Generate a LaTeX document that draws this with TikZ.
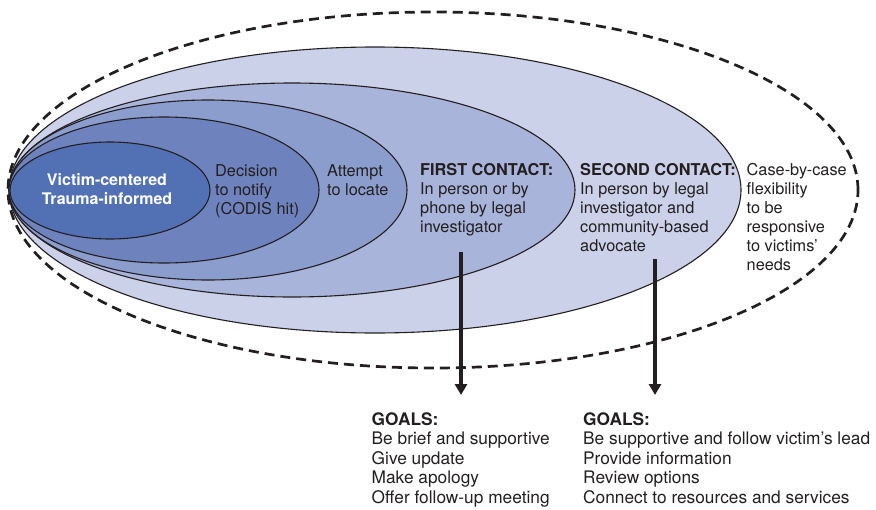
\documentclass[tikz,border=0pt]{standalone}
\usepackage{fontspec}
\setmainfont{TeX Gyre Heros}
\usetikzlibrary{shapes.geometric,arrows.meta}
\definecolor{c1}{RGB}{82,113,181}
\definecolor{c2}{RGB}{110,131,189}
\definecolor{c3}{RGB}{139,157,205}
\definecolor{c4}{RGB}{169,180,218}
\definecolor{c5}{RGB}{203,209,232}
\definecolor{ink}{RGB}{35,31,32}
\tikzset{
  ring/.style={ellipse, draw=ink, line width=1.1pt, inner sep=0pt, outer sep=0pt},
  lbl/.style={anchor=base west, align=left, inner sep=0pt, font=\fontsize{16.3}{19}\selectfont, text=ink},
  goal/.style={anchor=base west, align=left, inner sep=0pt, font=\fontsize{17.3}{19.6}\selectfont, text=ink},
  flow/.style={line width=3.8pt, draw=ink, -{Triangle[length=11pt,width=12pt]}},
}
\begin{document}
\begin{tikzpicture}[x=1pt,y=-1pt]
\useasboundingbox (0,0) rectangle (876,509);
\node[ring, line width=2.7pt, dash pattern=on 10pt off 6pt, minimum width=850pt, minimum height=356pt] (e6) at (433,190) {};
\node[ring, fill=c5, minimum width=732pt, minimum height=286pt] (e5) at (375,190) {};
\node[ring, fill=c4, minimum width=566pt, minimum height=214pt] (e4) at (292,190) {};
\node[ring, fill=c3, minimum width=398pt, minimum height=180pt] (e3) at (208,190) {};
\node[ring, fill=c2, minimum width=310pt, minimum height=146pt] (e2) at (164,190) {};
\node[ring, fill=c1, minimum width=200pt, minimum height=97pt] (e1) at (110,190.5) {};

\node[anchor=base, align=center, inner sep=0pt, text=white, font=\fontsize{16}{18.5}\selectfont\bfseries] (t1) at (107,204.2) {Victim-centered\\Trauma-informed};
\node[lbl] (t2) at (215,214) {Decision\\to notify\\(CODIS hit)};
\node[lbl] (t3) at (327,195) {Attempt\\to locate};
\node[lbl] (t4) at (420,232.5) {\textbf{FIRST CONTACT:}\\In person or by\\phone by legal\\investigator};
\node[lbl] (t5) at (580,251.5) {\textbf{SECOND CONTACT:}\\In person by legal\\investigator and\\community-based\\advocate};
\node[lbl] (t6) at (746.5,270.5) {Case-by-case\\flexibility\\to be\\responsive\\to victims'\\needs};

\node[goal] (g1) at (371.5,503.4) {\textbf{GOALS:}\\Be brief and supportive\\Give update\\Make apology\\Offer follow-up meeting};
\node[goal] (g2) at (583,503.4) {\textbf{GOALS:}\\Be supportive and follow victim's lead\\Provide information\\Review options\\Connect to resources and services};

\coordinate (a1s) at (461,252);
\coordinate (a1e) at (461,395);
\coordinate (a2s) at (655,259);
\coordinate (a2e) at (655,395);
\draw[flow] (a1s) -- (a1e);
\draw[flow] (a2s) -- (a2e);
\end{tikzpicture}
\end{document}
